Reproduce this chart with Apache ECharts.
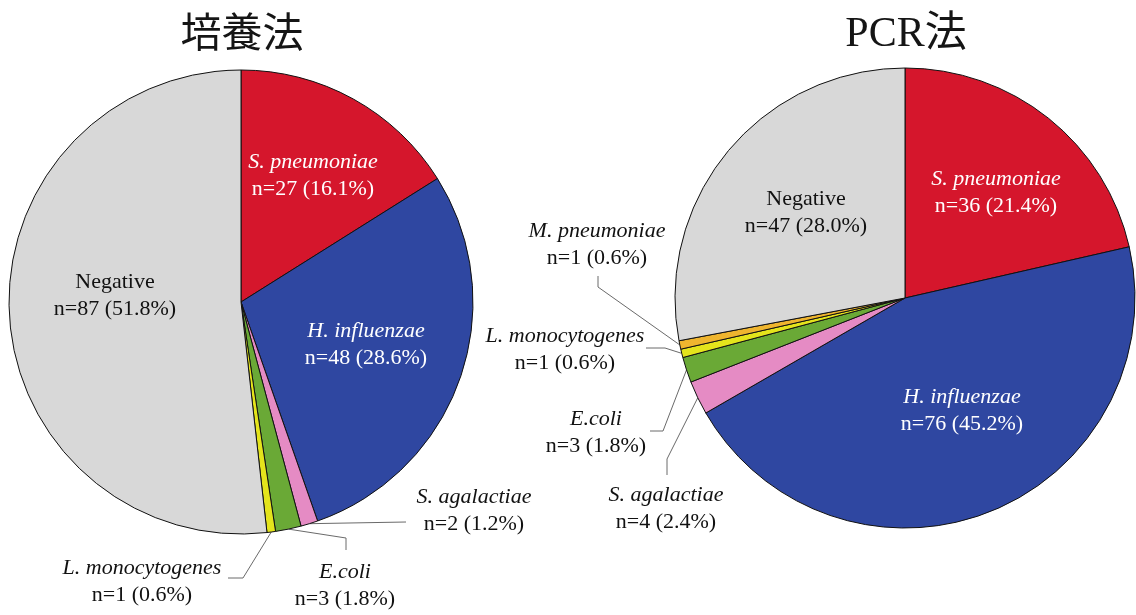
<!DOCTYPE html>
<html>
<head>
<meta charset="utf-8">
<script src="https://cdn.jsdelivr.net/npm/echarts@6/dist/echarts.min.js"></script>
<style>
  html, body { margin: 0; padding: 0; background: #ffffff; }
  #chart { width: 1136px; height: 615px; }
</style>
</head>
<body>
<div id="chart"></div>
<script>
// ---- data ----
const panelTitles = ['培養法', 'PCR法'];

const cultureNames  = ['S. pneumoniae', 'H. influenzae', 'S. agalactiae', 'E.coli', 'L. monocytogenes', 'Negative'];
const cultureValues = [27, 48, 2, 3, 1, 87];

const pcrNames  = ['S. pneumoniae', 'H. influenzae', 'S. agalactiae', 'E.coli', 'L. monocytogenes', 'M. pneumoniae', 'Negative'];
const pcrValues = [36, 76, 4, 3, 1, 1, 47];

// ---- styling ----
const sliceColors = {
  'S. pneumoniae':    '#d5162c',
  'H. influenzae':    '#2f47a1',
  'S. agalactiae':    '#e58bc4',
  'E.coli':           '#6aa936',
  'L. monocytogenes': '#e4e41c',
  'M. pneumoniae':    '#efb52f',
  'Negative':         '#d8d8d8'
};
const onDarkSlice = { 'S. pneumoniae': true, 'H. influenzae': true };
const SERIF = '"Liberation Serif", "Times New Roman", "DejaVu Serif", serif';

// label anchor (centre of the two-line block) and leader-line bends, per pie
const cultureLabelLayout = {
  'S. pneumoniae':    { at: [313, 176] },
  'H. influenzae':    { at: [366, 345] },
  'S. agalactiae':    { at: [474, 511], bend: [[406, 522]] },
  'E.coli':           { at: [345, 586], bend: [[346, 538], [346, 550]] },
  'L. monocytogenes': { at: [142, 582], bend: [[243, 578], [228, 578]] },
  'Negative':         { at: [115, 296] }
};
const pcrLabelLayout = {
  'S. pneumoniae':    { at: [996, 193] },
  'H. influenzae':    { at: [962, 411] },
  'S. agalactiae':    { at: [666, 509], bend: [[667, 459], [667, 475]] },
  'E.coli':           { at: [596, 433], bend: [[663, 431], [650, 431]] },
  'L. monocytogenes': { at: [565, 350], bend: [[665, 348], [646, 348]] },
  'M. pneumoniae':    { at: [597, 245], bend: [[598, 287], [598, 276]] },
  'Negative':         { at: [806, 213] }
};

function richFor(color) {
  return {
    it: { fontFamily: SERIF, fontSize: 22, fontStyle: 'italic', lineHeight: 27, color: color },
    up: { fontFamily: SERIF, fontSize: 22, fontStyle: 'normal', lineHeight: 27, color: color },
    v:  { fontFamily: SERIF, fontSize: 22, fontStyle: 'normal', lineHeight: 27, color: color }
  };
}

function buildData(names, values, layout) {
  const total = values.reduce((a, b) => a + b, 0);
  return names.map((name, i) => {
    const pct = (values[i] / total * 100).toFixed(1);
    const white = !!onDarkSlice[name];
    const outside = !!layout[name].bend;
    const nameTag = name === 'Negative' ? 'up' : 'it';
    return {
      name: name,
      value: values[i],
      itemStyle: { color: sliceColors[name] },
      label: {
        show: true,
        position: outside ? 'outside' : 'inside',
        formatter: '{' + nameTag + '|' + name + '}\n{v|n=' + values[i] + ' (' + pct + '%)}',
        rich: richFor(white ? '#ffffff' : '#111111')
      },
      labelLine: { show: outside }
    };
  });
}

function pieSeries(names, values, layout, center, radius) {
  return {
    type: 'pie',
    center: center,
    radius: radius,
    startAngle: 90,
    clockwise: true,
    avoidLabelOverlap: false,
    silent: true,
    animation: false,
    itemStyle: { borderColor: '#111111', borderWidth: 1 },
    label: { align: 'center' },
    labelLine: {
      show: true,
      length: 10,
      length2: 10,
      smooth: false,
      lineStyle: { color: '#6a6a6a', width: 1 }
    },
    labelLayout: function (params) {
      const name = names[params.dataIndex];
      const cfg = layout[name];
      const out = {
        x: cfg.at[0],
        y: cfg.at[1],
        align: 'center',
        verticalAlign: 'middle'
      };
      if (cfg.bend && params.labelLinePoints && params.labelLinePoints.length) {
        out.labelLinePoints = [params.labelLinePoints[0]].concat(cfg.bend);
      }
      return out;
    },
    data: buildData(names, values, layout)
  };
}

const chart = echarts.init(document.getElementById('chart'), null, { renderer: 'canvas' });

chart.setOption({
  backgroundColor: '#ffffff',
  animation: false,
  title: [
    {
      text: panelTitles[0], left: 237, top: 11, textAlign: 'center',
      textStyle: { fontFamily: SERIF + ', "Noto Sans CJK JP"', fontSize: 41, fontWeight: 'normal', color: '#151515' }
    },
    {
      text: panelTitles[1], left: 901, top: 9, textAlign: 'center',
      textStyle: { fontFamily: SERIF + ', "Noto Sans CJK JP"', fontSize: 42, fontWeight: 'normal', color: '#151515' }
    }
  ],
  series: [
    pieSeries(cultureNames, cultureValues, cultureLabelLayout, [241, 302], 232),
    pieSeries(pcrNames, pcrValues, pcrLabelLayout, [905, 298], 230)
  ]
});
</script>
</body>
</html>
